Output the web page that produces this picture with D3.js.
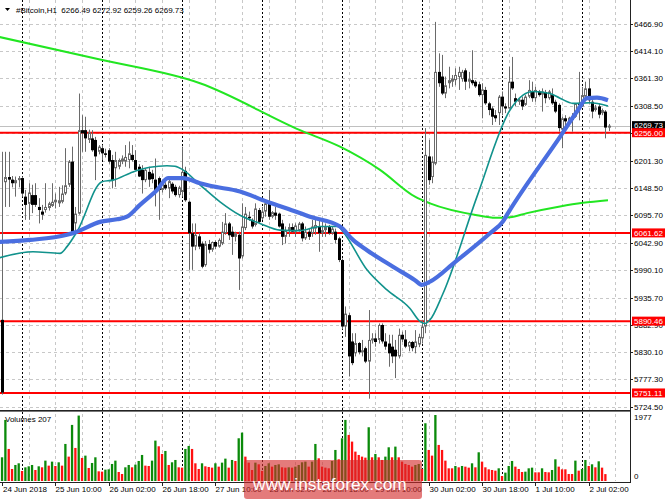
<!DOCTYPE html>
<html>
<head>
<meta charset="utf-8">
<title>#Bitcoin,H1</title>
<script src="https://cdn.jsdelivr.net/npm/d3@7"></script>
<style>
  html, body { margin: 0; padding: 0; background: #fff; }
  svg { display: block; font-family: "Liberation Sans", Arial, sans-serif; }
</style>
</head>
<body>
<div id="chart"></div>
<script>
// hourly bars, first bar 24 Jun 2018 18:00
const firstBar = Date.UTC(2018, 5, 24, 18);
const hour = 3600e3;

const opens = [5893,6160,6170,6165,6158,6164,6168,6132,6118,6135,6135,6112,6103,6106,6110,6114,6121,6119,6122,6138,
  6155,6200,6080,6099,6261,6261,6242,6245,6242,6219,6226,6216,6222,6203,6187,6190,6200,6200,6203,6213,
  6203,6190,6184,6164,6180,6177,6165,6168,6145,6155,6148,6157,6151,6135,6141,6182,6122,6061,6035,6055,
  6041,5999,6040,6029,6044,6035,6041,6061,6080,6064,6054,6058,6016,6071,6093,6087,6077,6106,6090,6103,
  6122,6093,6101,6099,6080,6054,6066,6073,6064,6067,6080,6051,6064,6061,6070,6074,6061,6067,6073,6061,
  6064,6051,6009,5880,5902,5851,5828,5848,5830,5838,5812,5854,5857,5854,5883,5851,5847,5841,5835,5822,
  5864,5855,5841,5850,5840,5845,5857,5880,6210,6170,6196,6374,6365,6332,6352,6355,6358,6364,6360,6377,
  6355,6358,6355,6350,6329,6339,6313,6303,6290,6294,6326,6307,6303,6355,6323,6316,6320,6310,6326,6336,
  6323,6336,6330,6335,6323,6329,6316,6310,6262,6284,6278,6286,6287,6313,6307,6326,6342,6316,6300,6307,
  6294,6297,6266.49];
const highs = [6219,6219,6219,6172,6171,6172,6171,6145,6158,6155,6158,6129,6116,6158,6122,6158,6138,6151,6154,6226,
  6203,6229,6112,6332,6290,6287,6262,6261,6248,6232,6232,6225,6226,6213,6219,6206,6212,6232,6239,6232,
  6222,6195,6193,6186,6190,6184,6206,6171,6165,6160,6168,6160,6155,6153,6229,6190,6124,6080,6080,6062,
  6045,6046,6048,6045,6047,6051,6083,6100,6083,6074,6064,6064,6119,6112,6103,6090,6119,6110,6112,6125,
  6145,6104,6112,6101,6087,6074,6080,6080,6080,6083,6083,6074,6070,6087,6090,6087,6087,6080,6077,6074,
  6070,6054,6012,5919,5906,5867,5867,5850,5854,5841,5912,5867,5867,5886,5886,5867,5864,5864,5854,5876,
  5870,5873,5852,5852,5873,5866,5893,6265,6242,6210,6471,6410,6407,6365,6384,6368,6381,6384,6378,6381,
  6374,6416,6358,6355,6352,6345,6316,6307,6300,6329,6336,6313,6384,6403,6332,6323,6326,6329,6358,6355,
  6345,6339,6342,6339,6339,6342,6320,6313,6287,6290,6287,6294,6313,6374,6345,6355,6361,6323,6310,6313,
  6303,6300,6272.92];
const lows = [5748,6112,6112,6150,6132,6150,6132,6087,6087,6100,6112,6080,6087,6101,6105,6112,6109,6112,6119,6135,
  6151,6062,6064,6097,6219,6219,6236,6219,6164,6214,6203,6208,6196,6148,6151,6185,6195,6190,6187,6200,
  6184,6170,6138,6160,6151,6158,6113,6087,6140,6145,6129,6138,6132,6130,6132,6122,5990,5990,6028,6030,
  5993,5996,6022,6025,6030,6033,6038,6058,6048,6019,6045,5951,6012,6067,6085,6070,6074,6080,6087,6093,
  6087,6090,6087,6072,6038,6041,6054,6062,6054,6064,6045,6048,6048,6054,6058,6025,6054,6054,6058,6058,
  6041,6005,5875,5860,5783,5805,5822,5826,5822,5809,5740,5847,5841,5847,5847,5835,5802,5809,5780,5818,
  5850,5838,5832,5832,5828,5840,5847,5867,6155,6158,6193,6345,6329,6323,6342,6345,6348,6339,6355,6339,
  6342,6348,6343,6326,6284,6310,6290,6271,6277,6271,6290,6294,6303,6339,6307,6310,6300,6308,6323,6316,
  6316,6326,6297,6313,6320,6310,6294,6258,6226,6258,6277,6258,6285,6280,6306,6320,6313,6284,6297,6284,
  6290,6245,6259.26];
const closes = [5752,6170,6165,6158,6164,6168,6138,6116,6140,6116,6116,6106,6097,6112,6119,6122,6126,6125,6138,6154,
  6200,6064,6099,6261,6255,6245,6257,6222,6210,6229,6216,6213,6200,6164,6203,6203,6206,6209,6216,6203,
  6184,6171,6164,6184,6165,6166,6145,6145,6160,6148,6162,6142,6135,6150,6180,6125,6061,6035,6058,6035,
  5996,6040,6029,6044,6035,6048,6064,6080,6057,6054,6061,6012,6074,6099,6090,6074,6109,6083,6103,6119,
  6093,6102,6095,6074,6054,6066,6073,6064,6076,6080,6051,6064,6054,6074,6077,6061,6067,6073,6061,6070,
  6048,6009,5880,5905,5822,5809,5848,5830,5834,5812,5854,5857,5850,5883,5851,5841,5828,5822,5822,5864,
  5855,5841,5850,5838,5851,5860,5880,6213,6164,6200,6374,6352,6332,6348,6358,6361,6368,6374,6374,6355,
  6360,6352,6346,6329,6340,6313,6300,6287,6284,6326,6307,6303,6355,6342,6316,6320,6307,6326,6339,6323,
  6339,6329,6336,6323,6336,6313,6297,6265,6284,6278,6285,6281,6313,6310,6329,6342,6319,6297,6305,6291,
  6300,6266,6269.73];
const volumes = [710,1830,960,360,480,530,300,410,440,480,330,440,410,610,460,580,450,560,460,1110,
  730,1680,990,1960,690,760,390,540,710,290,280,340,350,510,610,270,210,410,480,410,
  490,600,780,460,450,610,1210,1040,810,900,480,560,630,410,400,960,1050,960,530,360,
  530,440,420,400,530,430,550,670,400,630,600,1280,1450,730,550,330,550,500,300,450,
  530,430,480,500,410,400,410,400,430,480,560,580,430,580,1110,680,430,400,380,600,
  930,650,1280,1830,1380,1180,880,780,730,700,1610,710,810,710,630,730,1010,710,1030,710,
  580,510,480,430,480,510,360,1730,930,760,1977,1080,930,610,380,380,450,410,450,430,
  400,530,410,860,580,410,350,330,310,380,150,250,450,600,430,360,270,280,380,400,
  260,260,380,270,260,330,650,430,350,350,210,210,610,310,360,630,450,500,410,590,
  400,207];

const blueBars = [-1, 8.4, 19.5, 22.5, 29.4, 34.5, 37.5, 41.4, 46.5, 49.8, 54.3, 59.4, 62.4, 71.4, 79.5, 85.5, 92.4, 101.4,
  105.3, 109.5, 117.3, 123.9, 126, 128.4, 135.9, 146.4, 150.3, 151.8, 167.4, 172.5, 175.5, 178.5, 181.8];
const blueVals = [6044, 6048, 6058, 6064, 6083, 6088, 6093, 6116, 6145, 6168, 6168, 6158, 6153, 6142, 6122, 6109, 6093, 6074,
  6048, 6028, 5996, 5970, 5961, 5967, 6005, 6061, 6084, 6100, 6248, 6297, 6323, 6324, 6319];
const tealBars = [-1, 9.3, 17.4, 19.5, 22.5, 30, 33.3, 39.3, 44.4, 49.5, 51.9, 54.3, 59.4, 65.4, 71.4, 77.4, 83.4, 89.4,
  95.4, 100.8, 102.3, 109.5, 115.5, 122.4, 125.4, 126.9, 128.4, 132.3, 142.5, 152.4, 156.3, 159.3, 164.4, 167.4,
  171.3, 176.4, 181.8];
const tealVals = [6013, 6025, 6022, 6035, 6064, 6161, 6164, 6180, 6189, 6192, 6191, 6184, 6155, 6122, 6096, 6080, 6067, 6066,
  6074, 6074, 6064, 5990, 5951, 5915, 5890, 5886, 5893, 5944, 6132, 6300, 6329, 6336, 6332, 6323,
  6313, 6314, 6308];
const greenBars = [-1, 29.4, 59.4, 89.4, 101.4, 113.4, 123.9, 128.4, 142.5, 148, 152.4, 157.5, 167.4, 174.3, 181.8];
const greenVals = [6442, 6398, 6352, 6261, 6229, 6184, 6132, 6119, 6096, 6091, 6092, 6100, 6113, 6120, 6125];

const levels = [6256.00, 6061.62, 5890.46, 5751.11];
const lastPrice = 6269.73;
const priceTicks = [6466.90, 6414.10, 6361.30, 6308.50, 6255.70, 6201.30, 6148.50, 6095.70, 6042.90,
  5990.10, 5935.70, 5882.90, 5830.10, 5777.30, 5724.50];
const volTop = 1977;
const title = "#Bitcoin,H1  6266.49 6272.92 6259.26 6269.73";

const W = 665, H = 499;
const plotR = 630, mainB = 409, volB = 481;

const barTime = i => new Date(firstBar + i * hour);
const x = d3.scaleUtc().domain([barTime(0), barTime(189)]).range([2, 632]);
const y = d3.scaleLinear().domain([5720, 6509.6]).range([mainB, 2]);
const yv = d3.scaleLinear().domain([0, volTop]).range([volB, 415]);

const svg = d3.select("#chart").append("svg").attr("width", W).attr("height", H);
const fontSize = 8;

svg.append("defs").append("clipPath").attr("id", "clipMain")
  .append("rect").attr("x", 0).attr("y", 0).attr("width", plotR).attr("height", mainB);

// grid: horizontal
svg.append("g").selectAll("line").data(priceTicks).join("line")
  .attr("x1", 0).attr("x2", plotR)
  .attr("y1", d => Math.round(y(d)) + 0.5).attr("y2", d => Math.round(y(d)) + 0.5)
  .attr("stroke", "#c8c8c8").attr("stroke-dasharray", "3,3");

// grid: vertical every 8h, separators every day
const gridBars = d3.range(8, 189, 8);
const sepBars = d3.range(6, 189, 24);
const gridG = svg.append("g");
gridG.selectAll("line.g").data(gridBars).join("line").attr("class", "g")
  .attr("x1", d => Math.round(x(barTime(d))) + 0.5).attr("x2", d => Math.round(x(barTime(d))) + 0.5)
  .attr("y1", 0).attr("y2", volB)
  .attr("stroke", "#c8c8c8").attr("stroke-dasharray", "3,3");
gridG.selectAll("line.s").data(sepBars).join("line").attr("class", "s")
  .attr("x1", d => Math.round(x(barTime(d))) + 0.5).attr("x2", d => Math.round(x(barTime(d))) + 0.5)
  .attr("y1", 0).attr("y2", volB)
  .attr("stroke", "#000").attr("stroke-dasharray", "2,2");

const main = svg.append("g").attr("clip-path", "url(#clipMain)");

// bid line
main.append("line").attr("x1", 0).attr("x2", plotR)
  .attr("y1", Math.round(y(lastPrice)) + 0.5).attr("y2", Math.round(y(lastPrice)) + 0.5)
  .attr("stroke", "#c0c0c0");

// level lines
main.selectAll("line.lvl").data(levels).join("line").attr("class", "lvl")
  .attr("x1", 0).attr("x2", plotR)
  .attr("y1", d => y(d)).attr("y2", d => y(d))
  .attr("stroke", "#ff0000").attr("stroke-width", 2);

// moving averages
function maPath(bars, vals) {
  return d3.line().x((d, k) => x(barTime(bars[k]))).y(d => y(d)).curve(d3.curveMonotoneX)(vals);
}
main.append("path").attr("d", maPath(greenBars, greenVals))
  .attr("fill", "none").attr("stroke", "#22e622").attr("stroke-width", 2);

// candles
const idx = d3.range(opens.length);
const candles = main.append("g");
candles.selectAll("line").data(idx).join("line")
  .attr("x1", i => Math.round(x(barTime(i))) + 0.5).attr("x2", i => Math.round(x(barTime(i))) + 0.5)
  .attr("y1", i => y(highs[i])).attr("y2", i => y(lows[i]))
  .attr("stroke", "#6a6a6a");
candles.selectAll("rect").data(idx).join("rect")
  .attr("x", i => Math.round(x(barTime(i))) - 1 + (closes[i] >= opens[i] ? 0.5 : 0))
  .attr("y", i => y(Math.max(opens[i], closes[i])) + (closes[i] >= opens[i] ? 0.5 : 0))
  .attr("width", i => closes[i] >= opens[i] ? 2 : 3)
  .attr("height", i => Math.max(1, Math.abs(y(opens[i]) - y(closes[i])) - (closes[i] >= opens[i] ? 1 : 0)))
  .attr("fill", i => closes[i] >= opens[i] ? "#fff" : "#000")
  .attr("stroke", i => closes[i] >= opens[i] ? "#6a6a6a" : "none");

main.append("path").attr("d", maPath(tealBars, tealVals))
  .attr("fill", "none").attr("stroke", "#11928c").attr("stroke-width", 1.6);
main.append("path").attr("d", maPath(blueBars, blueVals))
  .attr("fill", "none").attr("stroke", "#4a6ee0").attr("stroke-width", 4.2);

// panel borders
svg.append("line").attr("x1", 0).attr("x2", plotR).attr("y1", 410.5).attr("y2", 410.5).attr("stroke", "#222");
svg.append("line").attr("x1", 0).attr("x2", plotR).attr("y1", 411.5).attr("y2", 411.5).attr("stroke", "#777");
svg.append("line").attr("x1", 0).attr("x2", plotR + 1).attr("y1", volB + 1.5).attr("y2", volB + 1.5).attr("stroke", "#222");
svg.append("line").attr("x1", plotR + 0.5).attr("x2", plotR + 0.5).attr("y1", 0).attr("y2", volB + 2).attr("stroke", "#222");

// volumes (green when rising, red when falling)
svg.append("g").selectAll("rect").data(idx).join("rect")
  .attr("x", i => x(barTime(i)) - 1.1).attr("width", 2.3)
  .attr("y", i => yv(volumes[i])).attr("height", i => volB - yv(volumes[i]))
  .attr("fill", i => (i > 0 && volumes[i] > volumes[i - 1]) || i === 0 ? "#0a8a0a" : "#ff1010");

// price axis
const axisG = svg.append("g").attr("font-size", fontSize);
priceTicks.forEach(p => {
  const yy = Math.round(y(p)) + 0.5;
  axisG.append("line").attr("x1", plotR).attr("x2", plotR + 3).attr("y1", yy).attr("y2", yy).attr("stroke", "#222");
  axisG.append("text").attr("x", 634).attr("y", yy).attr("dy", "0.35em").text(p.toFixed(2));
});
[volTop, 0].forEach(v => {
  const yy = v === 0 ? 476 : 417;
  axisG.append("text").attr("x", 634).attr("y", yy).attr("dy", "0.35em").text(v);
});

function priceTag(p, bg) {
  const yy = y(p);
  axisG.append("rect").attr("x", plotR + 2).attr("y", yy - 4.5).attr("width", W - plotR - 2).attr("height", 9).attr("fill", bg);
  axisG.append("text").attr("x", 634).attr("y", yy).attr("dy", "0.35em").attr("fill", "#fff").text(p.toFixed(2));
}
priceTag(lastPrice, "#000");
levels.forEach(p => priceTag(p, "#ff0000"));

// time axis
const fmt = d3.utcFormat("%-d %b %H:%M");
const labelBars = [0].concat(d3.range(16, 189, 16));
const timeG = svg.append("g").attr("font-size", fontSize);
labelBars.forEach(b => {
  const xx = Math.round(x(barTime(b))) + 0.5;
  timeG.append("line").attr("x1", xx).attr("x2", xx).attr("y1", volB + 2).attr("y2", volB + 5).attr("stroke", "#222");
  timeG.append("text").attr("x", b === 0 ? 3 : xx).attr("y", 492)
    .text(b === 0 ? d3.utcFormat("%-d %b %Y")(barTime(b)) : fmt(barTime(b)));
});

// titles
svg.append("path").attr("d", "M5,8 L10,8 L7.5,11 Z").attr("fill", "#000");
svg.append("text").attr("x", 16).attr("y", 12.5).attr("font-size", fontSize)
  .style("white-space", "pre").text(title);
svg.append("text").attr("x", 5).attr("y", 422).attr("font-size", fontSize).text("Volumes " + volumes[volumes.length - 1]);

// watermark
svg.append("rect").attr("x", 244).attr("y", 460).attr("width", 178).attr("height", 39).attr("rx", 3)
  .attr("fill", "#d42a2a").attr("fill-opacity", 0.62);
svg.append("text").attr("x", 253).attr("y", 490).attr("font-size", 17.3).attr("fill", "#fff")
  .text("www.instaforex.com");
</script>
</body>
</html>
